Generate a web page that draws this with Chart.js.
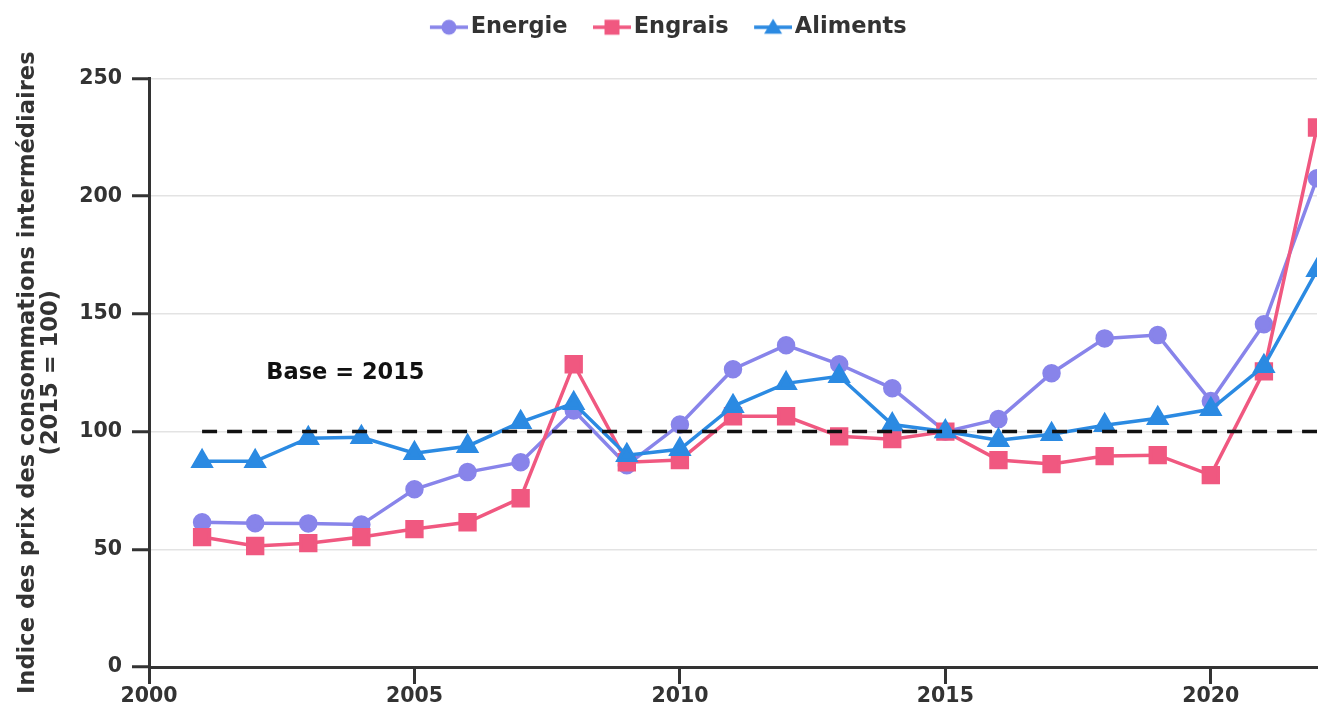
<!DOCTYPE html>
<html>
<head>
<meta charset="utf-8">
<script src="https://cdn.jsdelivr.net/npm/chart.js@4.4.0/dist/chart.umd.min.js"></script>
<style>
  html, body { margin: 0; padding: 0; background: #fff; }
  #wrap { width: 1319px; height: 705px; }
</style>
</head>
<body>
<div id="wrap"><canvas id="prix" width="1319" height="705"></canvas></div>
<script>
const years = [2001,2002,2003,2004,2005,2006,2007,2008,2009,2010,2011,2012,2013,2014,2015,2016,2017,2018,2019,2020,2021,2022]
const energie = [61.5,61.1,61,60.5,75.5,82.8,87,109,85.7,103,126.5,136.7,128.6,118.4,100,105.3,124.8,139.6,141,113,145.6,207.6]
const engrais = [55.2,51.4,52.6,55.2,58.6,61.5,71.7,128.6,87,87.9,106.5,106.5,98,96.8,100,87.9,86.2,89.6,90,81.5,125.6,229.2]
const aliments = [87.4,87.4,97.2,97.6,90.8,93.8,104,112,90,92.5,110.8,120.5,123.5,103,100,96.3,98.9,102.7,105.7,109.5,127.8,168.5]
const baseYears = [2001, 2022]
const baseValues = [100, 100]
const yTicks = [0, 50, 100, 150, 200, 250]
const xTicks = [2000, 2005, 2010, 2015, 2020]

const colEnergie = 'rgb(136,132,234)'
const colEngrais = 'rgb(240,88,128)'
const colAliments = 'rgb(43,138,226)'

Chart.defaults.font.family = 'DejaVu Sans'
Chart.defaults.color = '#333'

function pts(vals, xs){
  return vals.map((v, i) => ({x: xs[i], y: v}))
}

// icone trait + marqueur pour la legende, calee a droite du canvas
// (la partie gauche transparente sert d'espacement entre les entrees)
function legendIcon(color, style){
  const c = document.createElement('canvas')
  c.width = 56
  c.height = 20
  const ctx = c.getContext('2d')
  const x0 = 56 - 38
  const mid = x0 + 19
  ctx.strokeStyle = color
  ctx.fillStyle = color
  ctx.lineWidth = 3.5
  ctx.beginPath()
  ctx.moveTo(x0, 10)
  ctx.lineTo(56, 10)
  ctx.stroke()
  ctx.beginPath()
  if(style == 'circle'){
    ctx.arc(mid, 10, 7.5, 0, Math.PI * 2)
  } else if(style == 'rect'){
    ctx.rect(mid - 7.5, 2.5, 15, 15)
  } else {
    ctx.moveTo(mid, 1.5)
    ctx.lineTo(mid + 9, 16.5)
    ctx.lineTo(mid - 9, 16.5)
    ctx.closePath()
  }
  ctx.fill()
  return c
}

const baseLabel = {
  id: 'baseLabel',
  beforeInit(chart){
    const fit = chart.legend.fit
    chart.legend.fit = function(){
      fit.bind(chart.legend)()
      this.height += 30
    }
  },
  afterDatasetsDraw(chart){
    const ctx = chart.ctx
    const x = chart.scales.x.getPixelForValue(2003.7)
    const y = chart.scales.y.getPixelForValue(125)
    ctx.save()
    ctx.font = 'bold 22.5px "DejaVu Sans"'
    ctx.fillStyle = '#111'
    ctx.textAlign = 'center'
    ctx.textBaseline = 'middle'
    ctx.fillText('Base = 2015', x, y)
    ctx.restore()
  }
}

const styles = ['circle', 'rect', 'triangle']
const colors = [colEnergie, colEngrais, colAliments]

new Chart('prix', {
  type: 'line',
  data: {
    datasets: [{
      label: 'Energie',
      data: pts(energie, years),
      borderColor: colEnergie,
      backgroundColor: colEnergie,
      borderWidth: 3.5,
      pointStyle: 'circle',
      pointRadius: 7.5,
      order: 3
    },{
      label: 'Engrais',
      data: pts(engrais, years),
      borderColor: colEngrais,
      backgroundColor: colEngrais,
      borderWidth: 3.5,
      pointStyle: 'rect',
      pointRadius: 10.5,
      order: 2
    },{
      label: 'Aliments',
      data: pts(aliments, years),
      borderColor: colAliments,
      backgroundColor: colAliments,
      borderWidth: 3.5,
      pointStyle: 'triangle',
      pointRadius: 10,
      order: 1
    },{
      label: 'base',
      data: pts(baseValues, baseYears),
      borderColor: '#111',
      borderWidth: 3.5,
      borderDash: [15, 10],
      pointRadius: 0,
      order: 0
    }]
  },
  options: {
    responsive: false,
    animation: false,
    layout: { autoPadding: false, padding: { top: 0, right: 2, left: 10, bottom: 0 } },
    plugins: {
      legend: {
        position: 'top',
        labels: {
          usePointStyle: true,
          pointStyleWidth: 39,
          padding: 16,
          color: '#333',
          font: { size: 22.5, weight: 'bold' },
          generateLabels(chart){
            return chart.data.datasets.slice(0, 3).map((ds, i) => ({
              text: ds.label,
              pointStyle: legendIcon(colors[i], styles[i]),
              fillStyle: colors[i],
              strokeStyle: colors[i],
              lineWidth: 0,
              datasetIndex: i,
              fontColor: '#333'
            }))
          }
        }
      },
      tooltip: { enabled: false }
    },
    scales: {
      x: {
        type: 'linear',
        min: 2000,
        max: 2022,
        afterBuildTicks: axis => { axis.ticks = xTicks.map(v => ({value: v})) },
        afterFit: axis => { axis.height = 38 },
        ticks: {
          callback: v => String(v),
          font: { size: 20.5, weight: 'bold' },
          color: '#333',
          padding: 0,
          maxRotation: 0
        },
        grid: { drawOnChartArea: false, tickColor: '#333', tickLength: 17, tickWidth: 3 },
        border: { color: '#333', width: 3 }
      },
      y: {
        min: 0,
        max: 250,
        afterBuildTicks: axis => { axis.ticks = yTicks.map(v => ({value: v})) },
        afterFit: axis => { axis.width = 139 },
        ticks: {
          font: { size: 20.5, weight: 'bold' },
          color: '#333',
          padding: 10
        },
        grid: { color: '#e3e3e3', lineWidth: 1.5, tickColor: '#333', tickLength: 17, tickWidth: 3 },
        border: { color: '#333', width: 3 },
        title: {
          display: true,
          text: ['Indice des prix des consommations intermédiaires', '(2015 = 100)'],
          font: { size: 22.6, weight: 'bold', lineHeight: 1.0 },
          color: '#333',
          padding: { top: 7, bottom: 0 }
        }
      }
    }
  },
  plugins: [baseLabel]
})
</script>
</body>
</html>
